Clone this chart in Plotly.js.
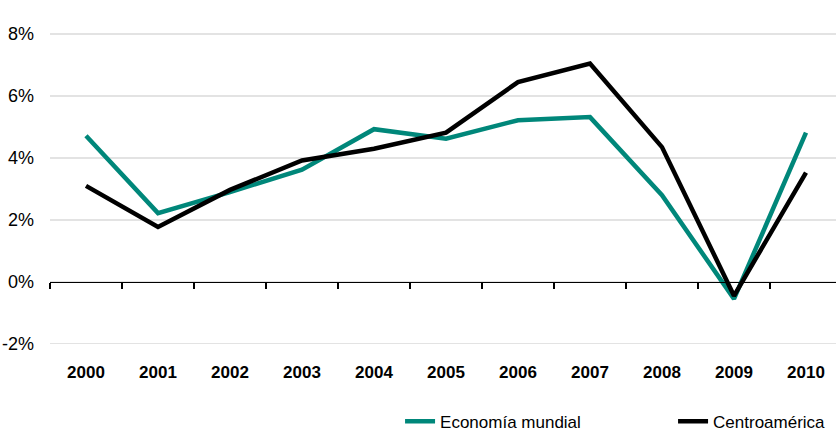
<!DOCTYPE html>
<html><head><meta charset="utf-8">
<script src="https://cdn.plot.ly/plotly-3.0.1.min.js"></script>
<style>html,body{margin:0;padding:0;overflow:hidden;background:#fff}#c{width:844px;height:433px}</style>
</head><body><div id="c"></div>
<script>
const years = ['2000','2001','2002','2003','2004','2005','2006','2007','2008','2009','2010'];
const economiaMundial = [4.72, 2.22, 2.9, 3.62, 4.93, 4.62, 5.22, 5.32, 2.8, -0.55, 4.82];
const centroamerica = [3.1, 1.77, 2.97, 3.92, 4.3, 4.82, 6.45, 7.05, 4.35, -0.45, 3.53];
const yTicks = [-2, 0, 2, 4, 6, 8];
const idx = years.map((_, i) => i);
const bounds = [-0.5].concat(idx.map(i => i + 0.5));
const F = '"Liberation Sans", Roboto, Arial, sans-serif';
const yMin = -2.2, yMax = 8.1;
const data = [
  {x: idx, y: economiaMundial, name: 'Economía mundial', type: 'scatter', mode: 'lines',
   line: {color: '#00877a', width: 4.5}},
  {x: idx, y: centroamerica, name: 'Centroamérica', type: 'scatter', mode: 'lines',
   line: {color: '#000000', width: 4.5}},
  {x: [], y: [], xaxis: 'x2', yaxis: 'y', showlegend: false, hoverinfo: 'skip'}
];
const layout = {
  width: 844, height: 433,
  margin: {l: 50, r: 2, t: 31, b: 83},
  paper_bgcolor: '#fff', plot_bgcolor: '#fff',
  font: {family: F, color: '#000', size: 17},
  showlegend: true,
  legend: {orientation: 'h', xref: 'container', yref: 'container', x: 0.474, y: 0.026, xanchor: 'left', yanchor: 'middle',
    font: {family: F, size: 17, color: '#000'}, entrywidth: 228, entrywidthmode: 'pixels', traceorder: 'normal'},
  xaxis: {range: [-0.5, 10.5], tickvals: idx, ticktext: years.map(y => '<b>' + y + '</b>'),
    showgrid: false, zeroline: false, showline: false, ticks: '', ticklabelstandoff: 10,
    tickfont: {family: F, size: 17, color: '#000'}, fixedrange: true},
  xaxis2: {overlaying: 'x', anchor: 'free', position: (0 - yMin) / (yMax - yMin), range: [-0.5, 10.5],
    tickvals: bounds, showticklabels: false, ticks: 'outside', ticklen: 6, tickwidth: 1.3, tickcolor: '#000',
    showline: true, linecolor: '#000', linewidth: 1.5, showgrid: false, zeroline: false},
  yaxis: {range: [yMin, yMax], tickvals: yTicks, ticktext: yTicks.map(v => v + '%'),
    showgrid: true, gridcolor: '#e3e3e3', gridwidth: 1.3, zeroline: false, showline: false, ticks: '',
    ticklabelstandoff: 15, tickfont: {family: F, size: 18, color: '#000'}}
};
Plotly.newPlot('c', data, layout, {displayModeBar: false, staticPlot: true});
</script></body></html>
